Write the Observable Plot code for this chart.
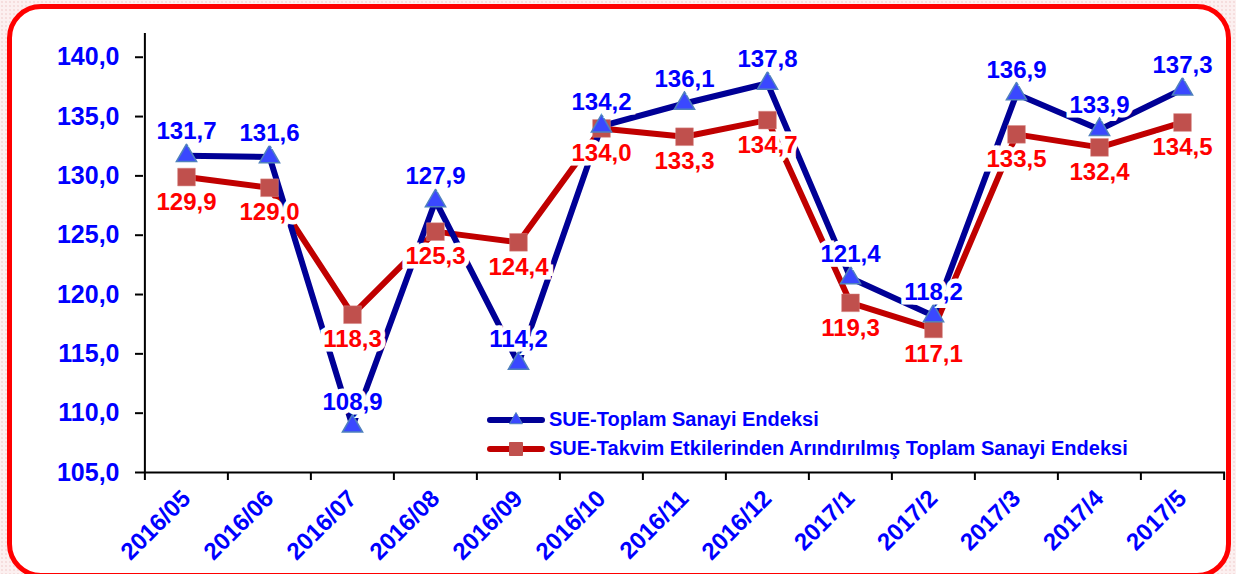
<!DOCTYPE html>
<html>
<head>
<meta charset="utf-8">
<script src="https://cdn.jsdelivr.net/npm/d3@7"></script>
<script src="https://cdn.jsdelivr.net/npm/@observablehq/plot@0.6"></script>
<style>
  html, body { margin: 0; padding: 0; }
  body {
    width: 1236px; height: 574px; overflow: hidden; position: relative;
    background-color: #fcf0f0;
    background-image: radial-gradient(#f5dcdc 0.7px, transparent 0.8px);
    background-size: 4px 4px;
    font-family: Arial, "Liberation Sans", sans-serif;
  }
  #frame {
    position: absolute; left: 7px; top: 4px; width: 1224px; height: 574px;
    box-sizing: border-box; border: 5px solid #ff0000; border-radius: 34px;
    background: #ffffff;
  }
  #chart { position: absolute; left: 0; top: 0; }
  #chart svg text { paint-order: stroke; }
  #chart svg g[aria-label="x-axis tick label"] text { font-weight: bold; }
  #legend {
    position: absolute; left: 487px; top: 405px;
    font: bold 20px Arial, "Liberation Sans", sans-serif; color: #0000ff;
  }
  #legend .row { display: flex; align-items: center; height: 29px; }
  #legend svg { margin-right: 4px; }
</style>
</head>
<body>
<div id="frame"></div>
<div id="chart"></div>
<div id="legend"></div>
<script>
const categories = ["2016/05","2016/06","2016/07","2016/08","2016/09","2016/10","2016/11","2016/12","2017/1","2017/2","2017/3","2017/4","2017/5"];
const sueToplam = [131.7,131.6,108.9,127.9,114.2,134.2,136.1,137.8,121.4,118.2,136.9,133.9,137.3];
const sueTakvim = [129.9,129.0,118.3,125.3,124.4,134.0,133.3,134.7,119.3,117.1,133.5,132.4,134.5];
const yTicks = [105,110,115,120,125,130,135,140];
const seriesNames = ["SUE-Toplam Sanayi Endeksi", "SUE-Takvim Etkilerinden Arındırılmış Toplam Sanayi Endeksi"];

const rows = categories.map((c, i) => ({cat: c, sue: sueToplam[i], takvim: sueTakvim[i]}));
const fmt = v => v.toFixed(1).replace(".", ",");

const W = 1236, H = 574, ML = 143, MR = 11, MT = 33, MB = 102;
const step = (W - ML - MR) / categories.length;

const NAVY = "#000096", RED = "#c00000", TRI = "#3a48ff", TRI_STROKE = "#4f81bd", SQ = "#c0504d";

const chart = Plot.plot({
  width: W, height: H,
  marginLeft: ML, marginRight: MR, marginTop: MT, marginBottom: MB,
  style: {background: "transparent", fontFamily: "Arial, 'Liberation Sans', sans-serif", overflow: "visible"},
  x: {type: "point", domain: categories, padding: 0.5},
  y: {domain: [105, 142]},
  marks: [
    Plot.axisY({ticks: yTicks, tickFormat: fmt, tickSize: 8, tickPadding: 16, fontSize: 25, fontWeight: "bold", fill: "#0000ff", stroke: "black", strokeWidth: 2, label: null}),
    Plot.axisX({tickRotate: -45, tickSize: 0, tickPadding: 22, fontSize: 24, fontWeight: "bold", fill: "#0000ff", label: null}),
    // axis lines
    Plot.ruleY([105], {stroke: "black", strokeWidth: 2}),
    Plot.ruleX([categories[0]], {dx: -step / 2, stroke: "black", strokeWidth: 2}),
    // boundary ticks on x axis
    Plot.ruleX(categories, {x: d => d, dx: -step / 2, y1: 105, y2: 105, insetBottom: -8, stroke: "black", strokeWidth: 2}),
    Plot.ruleX([categories[categories.length - 1]], {dx: step / 2, y1: 105, y2: 105, insetBottom: -8, stroke: "black", strokeWidth: 2}),
    // series
    Plot.line(rows, {x: "cat", y: "takvim", stroke: RED, strokeWidth: 6, strokeLinejoin: "miter"}),
    Plot.line(rows, {x: "cat", y: "sue", stroke: NAVY, strokeWidth: 6, strokeLinejoin: "miter"}),
    Plot.dot(rows, {x: "cat", y: "takvim", symbol: "square", r: 10, fill: SQ, stroke: "#d88a88", strokeWidth: 0.5}),
    Plot.dot(rows, {x: "cat", y: "sue", symbol: "triangle", r: 7.5, fill: TRI, stroke: TRI_STROKE, strokeWidth: 1.5}),
    // labels
    Plot.text(rows, {x: "cat", y: "takvim", text: d => fmt(d.takvim), dy: 25, fill: "#ff0000", stroke: "white", strokeWidth: 9, strokeLinejoin: "miter", fontSize: 24, fontWeight: "bold"}),
    Plot.text(rows, {x: "cat", y: "sue", text: d => fmt(d.sue), dy: -24, fill: "#0000ff", stroke: "white", strokeWidth: 9, strokeLinejoin: "miter", fontSize: 24, fontWeight: "bold"})
  ]
});
document.getElementById("chart").appendChild(chart);

// legend
const legend = d3.select("#legend");
const legendDefs = [
  {name: seriesNames[0], line: NAVY, sym: d3.symbolTriangle, size: Math.PI * 4.8 * 4.8, fill: TRI, stroke: TRI_STROKE},
  {name: seriesNames[1], line: RED, sym: d3.symbolSquare, size: 13 * 13, fill: SQ, stroke: SQ}
];
for (const def of legendDefs) {
  const row = legend.append("div").attr("class", "row");
  const s = row.append("svg").attr("width", 58).attr("height", 22);
  s.append("line").attr("x1", 3).attr("x2", 55).attr("y1", 11).attr("y2", 11)
    .attr("stroke", def.line).attr("stroke-width", 6).attr("stroke-linecap", "round");
  s.append("path").attr("d", d3.symbol(def.sym, def.size)()).attr("transform", "translate(29,11)")
    .attr("fill", def.fill).attr("stroke", def.stroke).attr("stroke-width", 1);
  row.append("span").text(def.name);
}
</script>
</body>
</html>
